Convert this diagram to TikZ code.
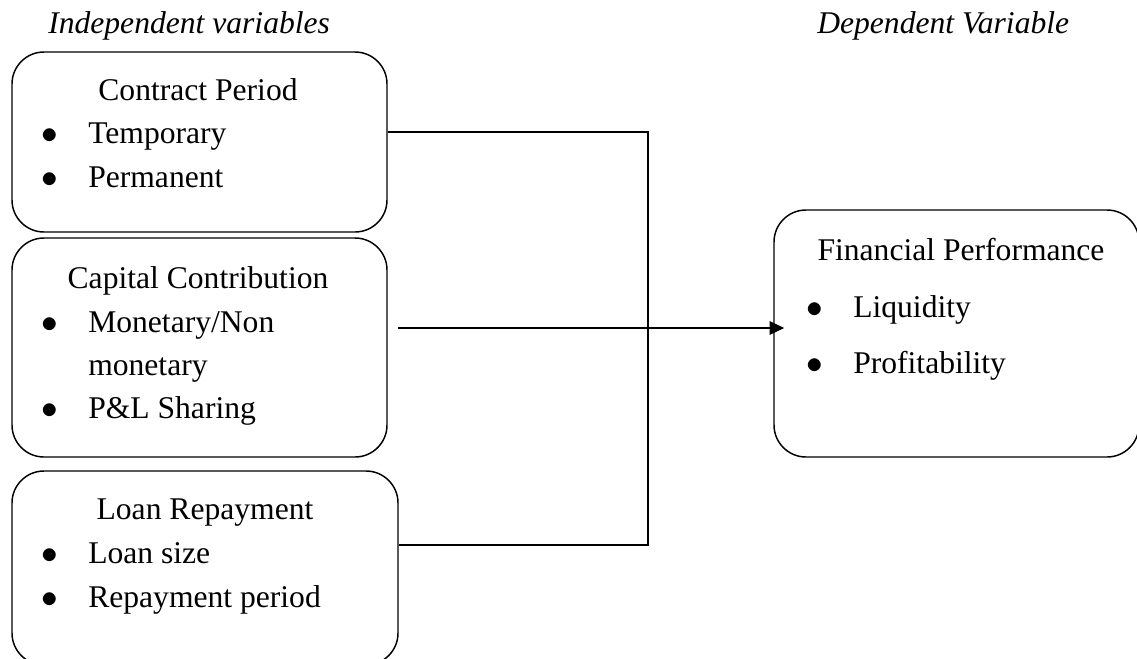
\documentclass[tikz,border=0pt]{standalone}
\usepackage{fontspec}
\setmainfont{Liberation Serif}
\usetikzlibrary{arrows.meta, positioning, calc}
\newcommand{\bodyfont}{\fontsize{23.7}{33}\selectfont}
\newcommand{\itembullet}{\makebox[35.25pt][l]{$\bullet$}}

\begin{document}
\begin{tikzpicture}[
        x=0.75pt, y=-0.75pt,
        var box/.style={
            rectangle,
            rounded corners=24pt,
            draw,
            line width=1.1pt,
            inner sep=0pt
        },
        box_title/.style={
            font=\bodyfont,
            anchor=base,
            inner sep=0pt
        },
        box_item/.style={
            font=\bodyfont,
            anchor=base west,
            inner sep=0pt
        },
        head_label/.style={
            font=\bodyfont\itshape,
            anchor=base west,
            inner sep=0pt
        },
        link/.style={line width=1.1pt}
    ]
        \useasboundingbox (0,0) rectangle (1137,658);

        % --- COLUMN HEADINGS ---
        \node[head_label] (indep) at (48,33) {Independent variables};
        \node[head_label] (dep) at (817,33) {Dependent Variable};

        % --- INDEPENDENT VARIABLE BOXES ---
        \node[var box, minimum width=375*0.75pt, minimum height=180*0.75pt] (CP) at (199.5,142) {};
        \node[box_title] (CP title) at (198,100) {Contract Period};
        \node[box_item] (CP a) at (41,143) {\itembullet Temporary};
        \node[box_item] (CP b) at (41,187) {\itembullet Permanent};

        \node[var box, minimum width=375*0.75pt, minimum height=219*0.75pt] (CC) at (199.5,347.5) {};
        \node[box_title] (CC title) at (198,288) {Capital Contribution};
        \node[box_item] (CC a) at (41,332) {\itembullet Monetary/Non};
        \node[box_item] (CC a2) at (88,375) {monetary};
        \node[box_item] (CC b) at (41,418) {\itembullet P\&L Sharing};

        \node[var box, minimum width=386*0.75pt, minimum height=194*0.75pt] (LR) at (205,568) {};
        \node[box_title] (LR title) at (205,519) {Loan Repayment};
        \node[box_item] (LR a) at (41,563) {\itembullet Loan size};
        \node[box_item] (LR b) at (41,607) {\itembullet Repayment period};

        % --- DEPENDENT VARIABLE BOX ---
        \node[var box, minimum width=365*0.75pt, minimum height=247*0.75pt] (FP) at (956.5,333.5) {};
        \node[box_title] (FP title) at (961,260) {Financial Performance};
        \node[box_item] (FP a) at (806,317) {\itembullet Liquidity};
        \node[box_item] (FP b) at (806,373) {\itembullet Profitability};

        % --- CONNECTORS ---
        \coordinate (bus top) at (648,132);
        \coordinate (bus bot) at (648,545);
        \coordinate (arr start) at (398,328);

        \draw[link] (CP.east |- bus top) -- (bus top) -- (bus bot) -- (LR.east |- bus bot);

        \draw[-{Triangle[length=11pt, width=10pt]}, line width=1.5pt, shorten >=-8.25pt]
            (arr start) -- (FP.west |- arr start);

    \end{tikzpicture}
\end{document}
